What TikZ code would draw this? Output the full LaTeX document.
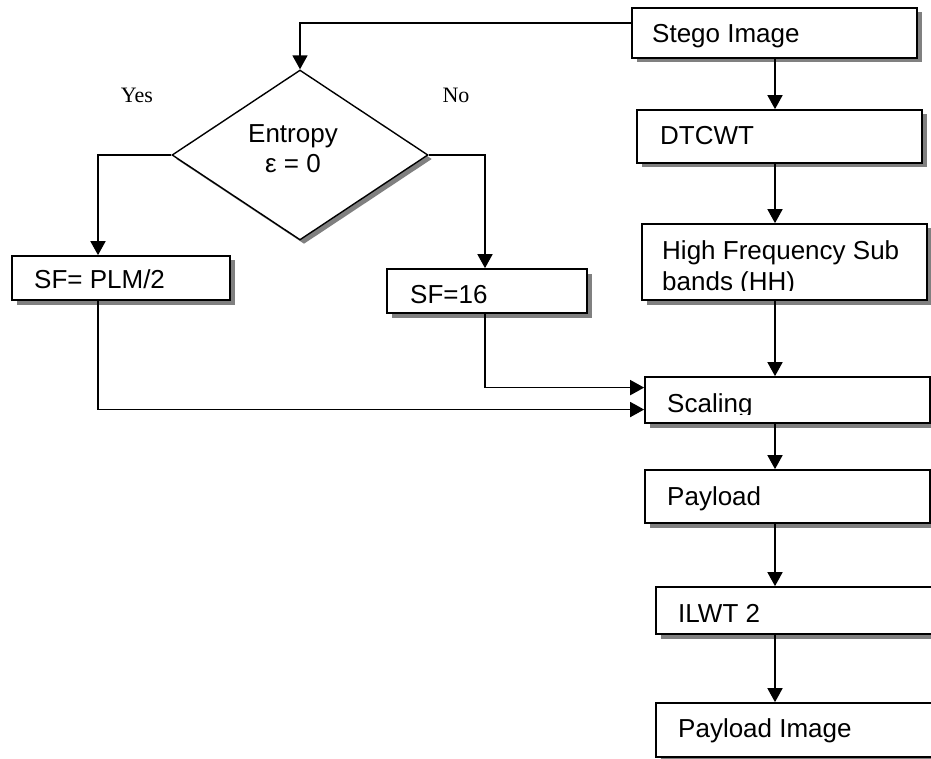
\documentclass[tikz,border=0pt]{standalone}
\usepackage{fontspec}
\setmainfont{Liberation Sans}
\newfontfamily\seriffont{Liberation Serif}
\usetikzlibrary{shapes.geometric,shadows,arrows.meta,calc}
\definecolor{shadowgray}{RGB}{128,128,128}
\begin{document}
\begin{tikzpicture}[x=1pt,y=1pt,
  box/.style={draw, line width=1.7pt, fill=white, rectangle, inner sep=0pt,
     drop shadow={shadow xshift=4.5pt, shadow yshift=-4.5pt, fill=shadowgray, opacity=1}},
  decbox/.style={draw, line width=1.4pt, fill=white, diamond, inner sep=0pt, aspect=1.5,
     drop shadow={shadow xshift=4pt, shadow yshift=-4pt, fill=shadowgray, opacity=1}},
  lbl/.style={anchor=base west, inner sep=0pt, font=\fontsize{26}{31}\selectfont},
  yn/.style={anchor=base, inner sep=0pt, font=\seriffont\fontsize{22}{26}\selectfont},
  arr/.style={line width=1.7pt, -{Triangle[length=14pt,width=15pt]}}
]
\useasboundingbox (0,0) rectangle (931,-759);
\fill[white] (0,0) rectangle (931,-759);

% coordinates for connector lines
\coordinate (mainx) at (775,0);
\coordinate (yesx) at (98,0);
\coordinate (nox) at (485,0);

% boxes
\node[box, minimum width=285pt, minimum height=50pt] (stego) at (774.5,-33) {};
\node[box, minimum width=285pt, minimum height=53pt] (dtcwt) at (779.5,-136.5) {};
\node[box, minimum width=285pt, minimum height=76pt] (hfs) at (784.5,-262) {};
\node[box, minimum width=285pt, minimum height=46pt] (scal) at (787.5,-400) {};
\node[box, minimum width=285pt, minimum height=53pt] (payl) at (787.5,-496.5) {};
\node[box, minimum width=294pt, minimum height=47pt] (ilwt) at (803,-610.5) {};
\node[box, minimum width=294pt, minimum height=54pt] (pimg) at (803,-730) {};
\node[box, minimum width=218pt, minimum height=44pt] (sfa) at (121,-278) {};
\node[box, minimum width=200pt, minimum height=44pt] (sfb) at (487,-291) {};
\node[decbox, minimum width=256pt, minimum height=170pt] (dec) at (300,-155) {};

% texts
\node[lbl] (tstego) at (652,-43) {Stego Image};
\node[lbl] (tdtcwt) at (660,-145) {DTCWT};
\begin{scope}
  \clip (600,-200) rectangle (931,-290.5);
  \node[lbl, anchor=north west, align=left] (thfs) at (662,-240.5) {High Frequency Sub\\bands (HH)};
\end{scope}
\begin{scope}
  \clip (600,-380) rectangle (931,-414);
  \node[lbl] (tscal) at (667,-412) {Scaling};
\end{scope}
\node[lbl] (tpayl) at (667,-505) {Payload};
\node[lbl] (tilwt) at (678,-622) {ILWT 2};
\node[lbl] (tpimg) at (678,-737) {Payload Image};
\node[lbl] (tsfa) at (34,-288) {SF= PLM/2};
\node[lbl] (tsfb) at (410,-303) {SF=16};
\node[inner sep=0pt, align=center, font=\fontsize{26}{30}\selectfont] (tdec) at (293,-149) {Entropy\\ε = 0};
\node[yn] (yes) at (137,-103) {Yes};
\node[yn] (no) at (456,-103) {No};

% connectors
\draw[arr] ($(stego.north west)!0.3!(stego.south west)$) -| (dec.north);
\draw[arr] (dec.west) -| (yesx |- sfa.north);
\draw[arr] (dec.east) -| (nox |- sfb.north);
\draw[arr] (nox |- sfb.south) |- ($(scal.north west)!0.24!(scal.south west)$);
\draw[arr] (yesx |- sfa.south) |- ($(scal.north west)!0.7!(scal.south west)$);
\draw[arr] (mainx |- stego.south) -- (mainx |- dtcwt.north);
\draw[arr] (mainx |- dtcwt.south) -- (mainx |- hfs.north);
\draw[arr] (mainx |- hfs.south) -- (mainx |- scal.north);
\draw[arr] (mainx |- scal.south) -- (mainx |- payl.north);
\draw[arr] (mainx |- payl.south) -- (mainx |- ilwt.north);
\draw[arr] (mainx |- ilwt.south) -- (mainx |- pimg.north);
\end{tikzpicture}
\end{document}
